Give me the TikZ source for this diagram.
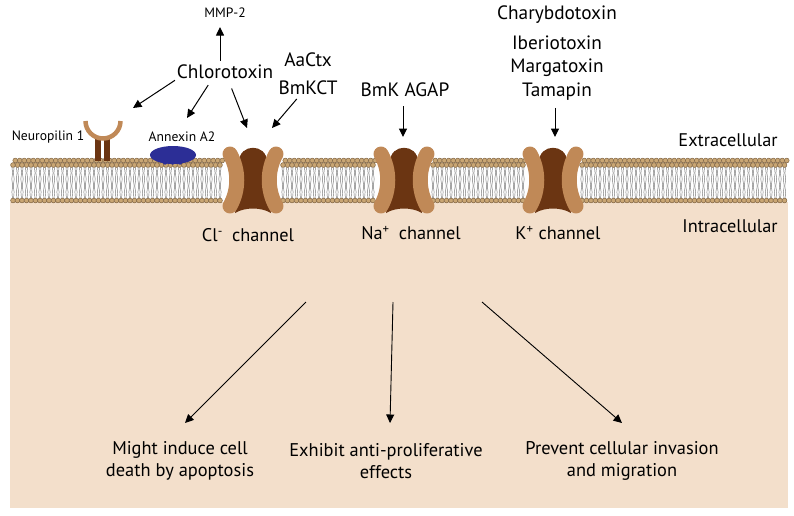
\documentclass[tikz,border=0pt]{standalone}
\usepackage{fontspec}
\setmainfont{PT Sans}
\usetikzlibrary{arrows.meta, positioning}
\definecolor{cytoplasm}{HTML}{F3DFCB}
\definecolor{headfill}{HTML}{C9A674}
\definecolor{headline}{HTML}{7E6240}
\definecolor{chlight}{HTML}{C08957}
\definecolor{chdark}{HTML}{6B3512}
\definecolor{annexin}{HTML}{2C2E96}
% one stretch of bilayer: first head, second head, last head
\newcommand*{\lipids}[3]{%
  \foreach \x in {#1,#2,...,#3}{
    \draw[tail] (\x-1.1,167) -- (\x-0.4,173) -- (\x-1.2,179) -- (\x-0.3,186) -- (\x-1.1,192) -- (\x-0.6,198);
    \draw[tail] (\x+1.1,167) -- (\x+0.4,173) -- (\x+1.2,179) -- (\x+0.3,186) -- (\x+1.1,192) -- (\x+0.6,198);
  }
  \foreach \x in {#1,#2,...,#3}{
    \filldraw[head] (\x+2.25,160.5) circle (2.4);
  }
  \foreach \x in {#1,#2,...,#3}{
    \filldraw[head] (\x,165) circle (2.4);
    \filldraw[head] (\x,200.5) circle (2.4);
  }
}
\tikzset{ionch/.pic={
    \fill[chdark] (-14,-18) .. controls (-14,-37) and (14,-37) .. (14,-18) -- (15,18) -- (18,33)
      .. controls (8,27) and (-8,27) .. (-18,33) -- (-15,18) -- cycle;
    \draw[chlight, line width=15pt, line cap=round] (-23,-26) .. controls (-14,-10) and (-14,10) .. (-23,26);
    \draw[chlight, line width=15pt, line cap=round] (23,-26) .. controls (14,-10) and (14,10) .. (23,26);
  }}

\begin{document}
\begin{tikzpicture}[x=1pt, y=-1pt, node distance=1cm,
    arr/.style={-{Triangle[length=8.5pt,width=8pt]}, line width=1pt},
    tail/.style={draw=black!55, line width=0.45pt},
    head/.style={fill=headfill, draw=headline, line width=0.5pt},
    txtbig/.style={inner sep=0pt, font=\fontsize{19.3}{22}\selectfont},
    txtmid/.style={inner sep=0pt, font=\fontsize{18.3}{22}\selectfont},
    txtsmall/.style={inner sep=0pt, font=\fontsize{13.6}{16}\selectfont},
    effect/.style={inner sep=0pt, align=center, font=\fontsize{18.4}{22.5}\selectfont}]
  \useasboundingbox (0,0) rectangle (794,515);
  \fill[cytoplasm] (10,202) rectangle (788,508);

  % membrane
  \lipids{13}{17.5}{224}
  \lipids{283}{287.5}{376}
  \lipids{433}{437.5}{524}
  \lipids{582}{586.5}{786}

  % channels
  \pic (clch) at (253,180) {ionch};
  \pic (nach) at (404,180) {ionch};
  \pic (kch) at (553,180) {ionch};

  % neuropilin and annexin
  \fill[chdark] (95,137) rectangle (100.5,161);
  \fill[chdark] (104,137) rectangle (109.5,161);
  \draw[chlight, line width=4.5pt] (85.5,121) arc[start angle=180, end angle=0, radius=17.5];
  \fill[annexin] (173,155) ellipse [x radius=23, y radius=9];
  \foreach \bx in {165,172.5,180}
    \fill[annexin] (\bx,162.5) circle (2.2);

  % labels
  \node[txtsmall] (mmp) at (225,13) {MMP-2};
  \node[txtbig] (chloro) at (225,72) {Chlorotoxin};
  \node[txtbig] (aactx) at (308,60) {AaCtx};
  \node[txtbig] (bmkct) at (308,88) {BmKCT};
  \node[txtbig] (agap) at (405,90) {BmK AGAP};
  \node[txtbig] (chary) at (557,15) {Charybdotoxin};
  \node[txtbig] (iberio) [below=28pt of chary.center, anchor=center] {Iberiotoxin};
  \node[txtbig] (marga) [below=25pt of iberio.center, anchor=center] {Margatoxin};
  \node[txtbig] (tama) [below=24pt of marga.center, anchor=center] {Tamapin};
  \node[txtsmall] (neuro) at (48,137) {Neuropilin 1};
  \node[txtsmall] (annex) at (182,137) {Annexin A2};
  \node[txtmid] (extra) at (728,140) {Extracellular};
  \node[txtmid] (intra) at (730,226) {Intracellular};
  \node[txtmid] (cllab) at (248,235) {Cl\textsuperscript{-}\enspace channel};
  \node[txtmid] (nalab) at (411,233) {Na\textsuperscript{+}\enspace channel};
  \node[txtmid] (klab) at (558,233) {K\textsuperscript{+} channel};
  \node[effect] (apop) at (180,461) {Might induce cell\\death by apoptosis};
  \node[effect] (prolif) at (386,461) {Exhibit anti-proliferative\\effects};
  \node[effect] (invas) at (622,461) {Prevent cellular invasion\\and migration};

  % arrow ends
  \coordinate (nrp) at (133,108);
  \coordinate (anx) at (187,118);
  \coordinate (clin) at (247,128);
  \coordinate (clin2) at (272,128);
  \coordinate (natop) at (403,137);
  \coordinate (ktop) at (555,137);
  \coordinate (s1) at (306,302);
  \coordinate (s2) at (393,302);
  \coordinate (s3) at (482,302);
  \coordinate (e1) at (185,423);
  \coordinate (e2) at (390,423);
  \coordinate (e3) at (622,423);

  \draw[arr, shorten <=4pt, shorten >=9pt] ([xshift=-5pt]chloro.north) -- ([xshift=-5pt]mmp.south);
  \draw[arr, shorten <=2pt] (chloro.south west) -- (nrp);
  \draw[arr, shorten <=7pt] ([xshift=-13pt]chloro.south) -- (anx);
  \draw[arr, shorten <=10pt] ([xshift=3pt]chloro.south) -- (clin);
  \draw[arr, shorten <=5pt] ([xshift=-8pt]bmkct.south) -- (clin2);
  \draw[arr, shorten <=9pt] ([xshift=-2pt]agap.south) -- (natop);
  \draw[arr, shorten <=7pt] ([xshift=-2pt]tama.south) -- (ktop);
  \draw[arr, line width=0.9pt] (s1) -- (e1);
  \draw[arr, line width=0.9pt] (s2) -- (e2);
  \draw[arr, line width=0.9pt] (s3) -- (e3);
\end{tikzpicture}
\end{document}
